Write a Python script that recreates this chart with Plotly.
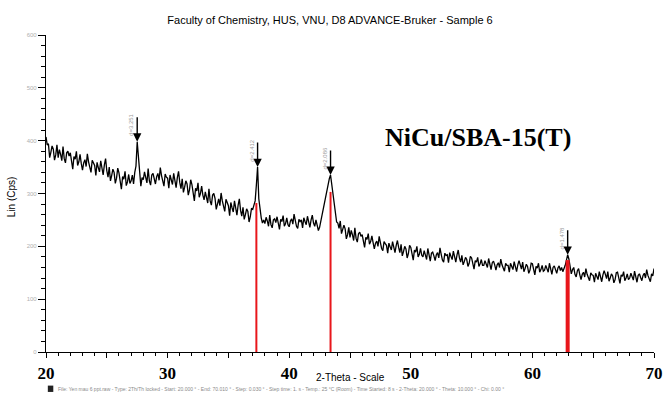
import plotly.graph_objects as go

# 2-theta from 20.0 to 70.0 in 0.1 steps; intensities (one row per degree)
intensity_rows = [
    [407, 392, 394, 368, 378, 390, 384, 363, 373, 392],  # 20
    [368, 383, 374, 362, 389, 366, 358, 377, 380, 371],  # 21
    [377, 356, 346, 370, 365, 380, 353, 360, 374, 357],  # 22
    [344, 358, 364, 351, 375, 360, 346, 340, 363, 357],  # 23
    [353, 334, 359, 349, 341, 362, 346, 335, 354, 366],  # 24
    [343, 331, 350, 324, 334, 346, 340, 319, 329, 348],  # 25
    [339, 318, 308, 332, 327, 342, 315, 322, 336, 319],  # 26
    [324, 335, 318, 340, 352, 398, 364, 332, 314, 330],  # 27
    [326, 341, 332, 320, 347, 324, 316, 335, 338, 329],  # 28
    [318, 332, 338, 325, 349, 334, 320, 314, 337, 331],  # 29
    [329, 310, 335, 325, 317, 338, 322, 311, 330, 342],  # 30
    [321, 309, 328, 302, 312, 324, 318, 297, 307, 326],  # 31
    [317, 296, 286, 310, 305, 320, 293, 300, 314, 297],  # 32
    [288, 303, 294, 282, 309, 286, 278, 297, 300, 291],  # 33
    [270, 284, 290, 277, 301, 286, 272, 266, 289, 283],  # 34
    [277, 258, 283, 273, 265, 286, 270, 259, 278, 290],  # 35
    [268, 257, 274, 251, 260, 271, 266, 246, 256, 272],  # 36
    [270, 280, 286, 316, 350, 290, 268, 254, 244, 250],  # 37
    [243, 255, 248, 238, 259, 241, 235, 250, 252, 245],  # 38
    [256, 240, 232, 251, 247, 258, 238, 243, 254, 241],  # 39
    [237, 248, 252, 242, 261, 249, 238, 234, 251, 247],  # 40
    [250, 235, 254, 247, 241, 257, 244, 236, 250, 259],  # 41
    [244, 238, 250, 240, 230, 236, 248, 260, 274, 286],  # 42
    [294, 306, 318, 328, 335, 316, 296, 276, 258, 246],  # 43
    [244, 234, 248, 224, 232, 240, 233, 214, 222, 236],  # 44
    [217, 230, 222, 211, 235, 215, 208, 224, 227, 219],  # 45
    [222, 206, 198, 217, 213, 224, 204, 209, 220, 207],  # 46
    [195, 206, 210, 200, 219, 207, 196, 192, 209, 205],  # 47
    [202, 187, 206, 199, 193, 209, 196, 188, 202, 211],  # 48
    [198, 188, 204, 182, 190, 200, 195, 178, 186, 202],  # 49
    [198, 182, 174, 193, 189, 200, 180, 185, 196, 183],  # 50
    [180, 192, 185, 175, 196, 179, 172, 187, 189, 182],  # 51
    [173, 184, 188, 178, 197, 185, 174, 170, 187, 183],  # 52
    [184, 169, 188, 181, 175, 191, 178, 170, 184, 193],  # 53
    [178, 170, 183, 165, 171, 179, 175, 162, 168, 181],  # 54
    [178, 163, 157, 173, 170, 179, 162, 167, 175, 164],  # 55
    [164, 173, 168, 160, 177, 162, 156, 169, 172, 165],  # 56
    [155, 165, 169, 160, 176, 165, 157, 153, 168, 164],  # 57
    [164, 151, 168, 162, 156, 171, 159, 152, 165, 173],  # 58
    [165, 157, 170, 152, 158, 166, 162, 149, 155, 168],  # 59
    [167, 152, 146, 162, 159, 168, 151, 156, 164, 153],  # 60
    [155, 164, 159, 151, 168, 153, 147, 160, 163, 156],  # 61
    [149, 159, 163, 154, 160, 152, 158, 164, 174, 184],  # 62
    [176, 162, 148, 156, 160, 147, 142, 154, 158, 146],  # 63
    [137, 147, 151, 142, 158, 147, 139, 135, 150, 146],  # 64
    [145, 132, 149, 143, 137, 152, 140, 133, 146, 154],  # 65
    [147, 139, 152, 134, 140, 148, 144, 131, 137, 150],  # 66
    [151, 136, 130, 146, 143, 152, 135, 140, 148, 137],  # 67
    [140, 149, 144, 136, 153, 138, 132, 145, 148, 141],  # 68
    [135, 145, 149, 140, 156, 145, 137, 133, 148, 144],  # 69
    [158],                                                # 70
]
two_theta_start = 20.0
two_theta_step = 0.1

# reference (red) stick lines
stick_pos = [37.3, 43.4, 62.9]
stick_height = [282, 303, 174]
stick_width = [2, 2, 4]

# peak markers (arrows) and their labels
peak_pos = [27.5, 37.4, 43.4, 62.9]
peak_top = [398, 350, 335, 184]
peak_labels = ["d=3.251", "d=2.412", "d=2.086", "d=1.478"]

y_tick_vals = [0, 100, 200, 300, 400, 500, 600]
x_tick_vals = [20, 25, 30, 35, 40, 45, 50, 55, 60, 65, 70]
x_tick_text = ["20", "", "30", "", "40", "", "50", "", "60", "", "70"]

intensity = [v for row in intensity_rows for v in row]
two_theta = [round(two_theta_start + i * two_theta_step, 2) for i in range(len(intensity))]

fig = go.Figure()

fig.add_trace(go.Scatter(x=two_theta, y=intensity, mode="lines",
                         line=dict(color="black", width=1.3), showlegend=False,
                         hoverinfo="skip"))

for p, h, w in zip(stick_pos, stick_height, stick_width):
    fig.add_trace(go.Scatter(x=[p, p], y=[0, h], mode="lines",
                             line=dict(color="#e8161b", width=w), showlegend=False))

for p, t, lab in zip(peak_pos, peak_top, peak_labels):
    fig.add_annotation(x=p, y=t, xref="x", yref="y", text="", showarrow=True,
                       ax=0, ay=-26, arrowhead=2, arrowsize=1.2, arrowwidth=1.4,
                       arrowcolor="black")
    fig.add_annotation(x=p, y=t, xref="x", yref="y", text=lab, showarrow=False,
                       textangle=-90, xshift=-6, yshift=17,
                       font=dict(family="Liberation Sans", size=6, color="#9a9a9a"))

fig.add_annotation(x=0.71, y=0.678, xref="paper", yref="paper",
                   xanchor="center", yanchor="middle",
                   text="<b>NiCu/SBA-15(T)</b>", showarrow=False,
                   font=dict(family="Liberation Serif", size=26, color="black"))

fig.add_annotation(x=-35 / 617, y=0.49, xref="paper", yref="paper", xanchor="center",
                   yanchor="middle", text="Lin (Cps)", textangle=-90, showarrow=False,
                   font=dict(family="Liberation Sans", size=10, color="black"))

fig.add_annotation(x=0.5, y=-0.082, xref="paper", yref="paper", yanchor="middle",
                   xanchor="center", text="2-Theta - Scale", showarrow=False,
                   font=dict(family="Liberation Sans", size=10, color="black"))

fig.add_annotation(x=0.016, y=-0.117, xref="paper", yref="paper", xanchor="left",
                   yanchor="middle",
                   text=("File: Yen mau 6 ppt.raw - Type: 2Th/Th locked - Start: 20.000 \u00b0 - End: 70.010 \u00b0 - "
                         "Step: 0.030 \u00b0 - Step time: 1. s - Temp.: 25 \u00b0C (Room) - Time Started: 8 s - "
                         "2-Theta: 20.000 \u00b0 - Theta: 10.000 \u00b0 - Chi: 0.00 \u00b0"),
                   showarrow=False,
                   font=dict(family="Liberation Sans", size=5, color="#8a8a8a"))

fig.add_shape(type="rect", xref="paper", yref="paper", x0=0.003, x1=0.012,
              y0=-0.106, y1=-0.126, fillcolor="#222222", line=dict(width=0))

fig.update_layout(
    width=672, height=394,
    margin=dict(l=46, r=9, t=35, b=42),
    paper_bgcolor="white", plot_bgcolor="white",
    title=dict(text="Faculty of Chemistry, HUS, VNU, D8 ADVANCE-Bruker - Sample 6",
               x=330 / 672, xanchor="center", y=1 - 20 / 394, yanchor="middle",
               font=dict(family="Liberation Sans", size=11, color="black")),
    xaxis=dict(range=[20, 70], showline=True, linecolor="black", linewidth=1.2,
               showgrid=False, zeroline=False, ticks="outside", ticklen=5,
               tickwidth=1.2, tickcolor="black", tickvals=x_tick_vals,
               ticktext=x_tick_text,
               tickfont=dict(family="Liberation Serif", size=17, color="black",
                             weight="bold"),
               minor=dict(dtick=1, tick0=20, ticks="outside", ticklen=3,
                          tickcolor="black", showgrid=False)),
    yaxis=dict(range=[0, 600], showline=True, linecolor="black", linewidth=1.2,
               showgrid=False, zeroline=False, ticks="outside", ticklen=7,
               tickwidth=1.2, tickcolor="black", tickvals=y_tick_vals,
               tickfont=dict(family="Liberation Sans", size=6, color="#b0b0b0"),
               minor=dict(dtick=20, tick0=0, ticks="outside", ticklen=4,
                          tickcolor="black", showgrid=False)),
)

fig.write_html("out.html")
